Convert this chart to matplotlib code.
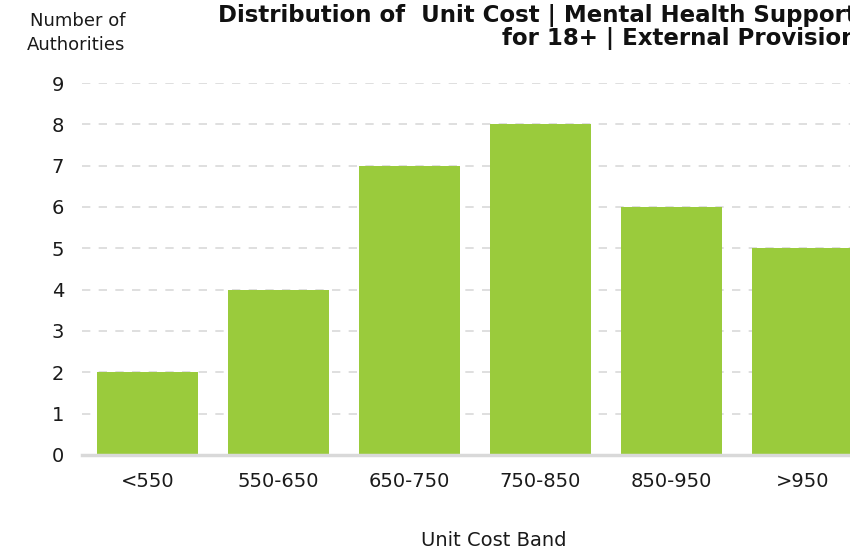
import matplotlib.pyplot as plt

plt.rcParams['font.family'] = ['DejaVu Sans']

bands = ["<550", "550-650", "650-750", "750-850", "850-950", ">950"]
authorities = [2, 4, 7, 8, 6, 5]

bar_color = "#9acb3c"
grid_color = "#d9d9d9"

fig = plt.figure(figsize=(8.5, 5.5), dpi=100)
# axes runs past the right edge, so the last bar is cut off like the original
ax = fig.add_axes([82 / 850, 95 / 550, 786 / 850, 372 / 550])

ax.bar(range(len(bands)), authorities, width=0.77, color=bar_color, zorder=3)

ax.set_xlim(-0.5, len(bands) - 0.5)
ax.set_ylim(0, 9)
ax.set_yticks(range(0, 10))
ax.set_xticks(range(len(bands)))
ax.set_xticklabels(bands)

ax.yaxis.grid(True, color=grid_color, linestyle=(0, (5, 5)), linewidth=1.2, zorder=0)
for side in ["top", "right", "left"]:
    ax.spines[side].set_visible(False)
ax.spines["bottom"].set_color(grid_color)
ax.spines["bottom"].set_linewidth(2.5)
ax.spines["bottom"].set_zorder(4)

ax.tick_params(axis="both", length=0, labelsize=14, colors="#1a1a1a")
ax.tick_params(axis="y", pad=13)
ax.tick_params(axis="x", pad=12)

fig.text(494 / 850, 1 - 541 / 550, "Unit Cost Band", ha="center", va="center",
         fontsize=14, color="#1a1a1a")
fig.text(125 / 850, 1 - 33 / 550, "Number of\nAuthorities", ha="right", va="center",
         multialignment="right", fontsize=13, color="#1a1a1a", linespacing=1.4)
fig.text(857 / 850, 1 - 27 / 550,
         "Distribution of  Unit Cost | Mental Health Support\nfor 18+ | External Provision",
         ha="right", va="center", fontsize=16.5, fontweight="bold", color="#111111",
         linespacing=0.95)

fig.savefig("out.png", dpi=100)
